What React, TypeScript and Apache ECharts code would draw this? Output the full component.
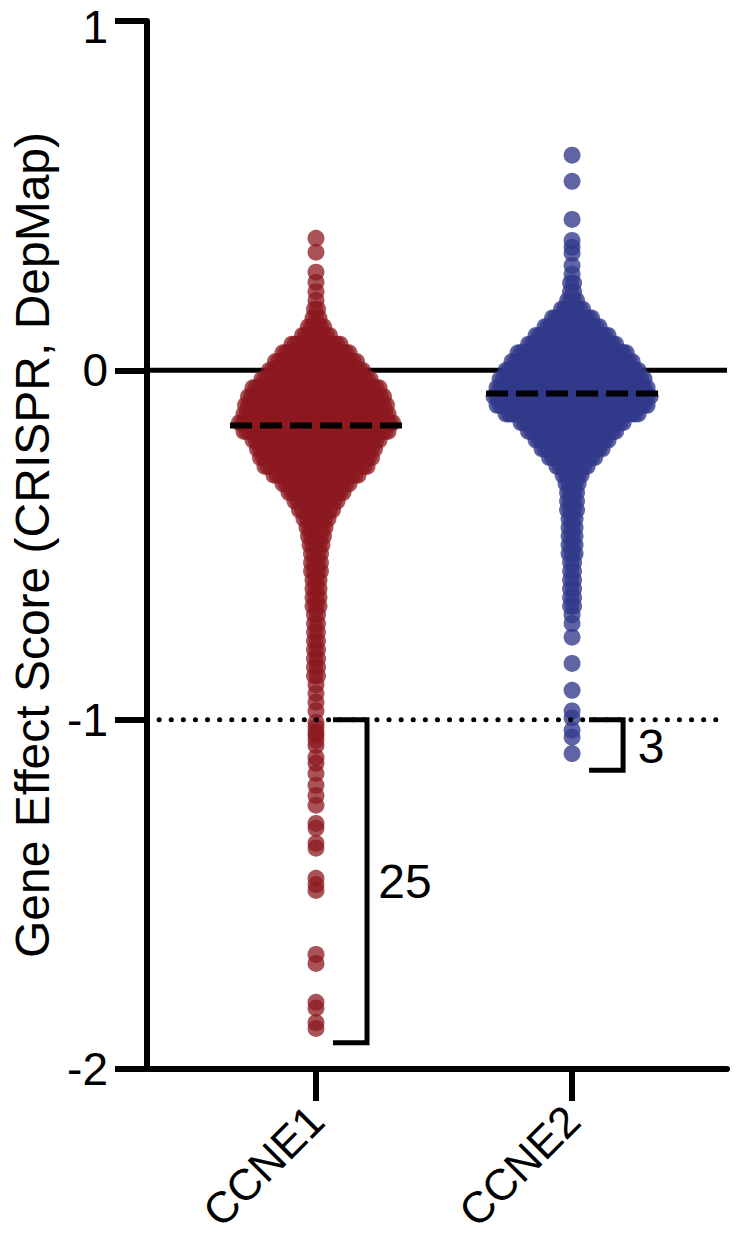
import React, { useEffect, useRef } from "react";
import * as echarts from "echarts";

// ---- Data ----
const CATEGORIES = ["CCNE1", "CCNE2"];
const BIN_STEP = 0.025;

// CCNE1: number of cell lines per 0.025-wide bin, from the top bin down
const CCNE1_BIN_TOP = 0.225;
const CCNE1_COUNTS = [
  1, 1, 2, 3, 6, 10, 17, 23, 28, 32,
  37, 43, 46, 48, 49, 52, 49, 43, 40, 38, 35, 29,
  23, 19, 15, 12, 9, 7, 6, 5,
  4, 4, 4, 3, 3, 3, 3, 2, 2, 2, 2, 2, 2, 2, 2, 1, 1, 1, 1,
];
const CCNE1_HIGH = [0.378, 0.338, 0.281, 0.252];
const CCNE1_LOW = [
  -1.008, -1.022, -1.036, -1.045, -1.059, -1.074, -1.108, -1.125, -1.154,
  -1.188, -1.217, -1.245, -1.297, -1.311, -1.354, -1.368, -1.454, -1.472,
  -1.489, -1.672, -1.698, -1.809, -1.826, -1.867, -1.884,
];
const CCNE1_MEDIAN = -0.158;

// CCNE2
const CCNE2_BIN_TOP = 0.3;
const CCNE2_COUNTS = [
  1, 1, 2, 2, 4, 8, 14, 19, 25, 30, 37, 41, 45,
  49, 51, 53, 51, 45, 35, 30, 25, 21, 16, 11, 7, 5,
  4, 4, 4, 3, 3, 3, 3, 3, 2, 2, 2, 2, 2, 2, 1, 1,
];
const CCNE2_HIGH = [0.616, 0.541, 0.432, 0.372, 0.352, 0.335];
const CCNE2_LOW = [-0.764, -0.839, -0.916, -0.975, -0.995, -1.03, -1.05, -1.097];
const CCNE2_MEDIAN = -0.066;

// counts below the -1 threshold shown by the brackets
const BRACKET_LABELS = ["25", "3"];
const BRACKET_BOTTOMS = [-1.925, -1.145];
const THRESHOLD = -1;

const Y_TICKS = { min: -2, max: 1, interval: 1 };

// ---- layout ----
const W = 749;
const H = 1244;
const GRID = { left: 147, right: 22, top: 21, bottom: 175 };
const X_MIN = 0.34;
const X_MAX = 2.605;
const X_UNIT_PX = (W - GRID.left - GRID.right) / (X_MAX - X_MIN);
const DOT = 17;
const SPACING_PX = 3;
const FONT = "'Liberation Sans', Arial, Helvetica, sans-serif";

const RED = "rgb(140,26,32)";
const BLUE = "rgb(50,58,138)";

function swarm(center: number, binTop: number, counts: number[], high: number[], low: number[]) {
  const pts: number[][] = [];
  high.forEach((v) => pts.push([center, v]));
  counts.forEach((n, i) => {
    const v = +(binTop - i * BIN_STEP).toFixed(4);
    for (let j = 0; j < n; j++) {
      const off = ((j - (n - 1) / 2) * SPACING_PX) / X_UNIT_PX;
      pts.push([center + off, v]);
    }
  });
  low.forEach((v) => pts.push([center, v]));
  return pts;
}

export default function App() {
  const ref = useRef<HTMLDivElement>(null);
  useEffect(() => {
    const chart = echarts.init(ref.current!, null, { renderer: "svg" });
    const p1 = swarm(1, CCNE1_BIN_TOP, CCNE1_COUNTS, CCNE1_HIGH, CCNE1_LOW);
    const p2 = swarm(2, CCNE2_BIN_TOP, CCNE2_COUNTS, CCNE2_HIGH, CCNE2_LOW);
    const halfMed = 86 / X_UNIT_PX;
    const bx1 = 17 / X_UNIT_PX;
    const bx2 = 51 / X_UNIT_PX;
    const bracket = (c: number, bottom: number) => [
      [c + bx1, THRESHOLD],
      [c + bx2, THRESHOLD],
      [c + bx2, bottom],
      [c + bx1, bottom],
    ];
    const lineBase = {
      type: "line" as const,
      symbol: "none",
      showSymbol: false,
      silent: true,
      animation: false,
    };
    chart.setOption({
      animation: false,
      backgroundColor: "#fff",
      textStyle: { fontFamily: FONT },
      grid: { ...GRID, containLabel: false, outerBoundsMode: "none" },
      xAxis: {
        type: "value",
        min: X_MIN,
        max: X_MAX,
        axisLine: { show: true, onZero: false, lineStyle: { color: "#000", width: 6 } },
        axisTick: { show: true, customValues: [1, 2], length: 32, lineStyle: { color: "#000", width: 6 } },
        axisLabel: {
          customValues: [1, 2],
          formatter: (v: number) => CATEGORIES[Math.round(v) - 1],
          rotate: 45,
          margin: 44,
          fontSize: 44,
          lineHeight: 44,
          color: "#000",
          fontFamily: FONT,
        },
        splitLine: { show: false },
      },
      yAxis: {
        type: "value",
        min: Y_TICKS.min,
        max: Y_TICKS.max,
        interval: Y_TICKS.interval,
        axisLine: { show: true, onZero: false, lineStyle: { color: "#000", width: 6 } },
        axisTick: { show: true, length: 32, lineStyle: { color: "#000", width: 6 } },
        axisLabel: {
          margin: 39,
          fontSize: 46,
          color: "#000",
          fontFamily: FONT,
          formatter: (v: number) => (v === Y_TICKS.max ? "{top|" + v + "}" : String(v)),
          rich: { top: { fontSize: 46, color: "#000", fontFamily: FONT, padding: [12, 0, 0, 0] } },
        },
        splitLine: { show: false },
        name: "Gene Effect Score (CRISPR, DepMap)",
        nameLocation: "middle",
        nameGap: 88,
        nameTextStyle: { fontSize: 48, color: "#000", fontFamily: FONT },
      },
      series: [
        {
          ...lineBase,
          data: [[X_MIN, 0], [X_MAX, 0]],
          lineStyle: { color: "#000", width: 5 },
          z: 1,
        },
        {
          type: "scatter",
          data: p1,
          symbolSize: DOT,
          itemStyle: { color: RED, opacity: 0.75 },
          silent: true,
          z: 2,
        },
        {
          type: "scatter",
          data: p2,
          symbolSize: DOT,
          itemStyle: { color: BLUE, opacity: 0.78 },
          silent: true,
          z: 2,
        },
        {
          ...lineBase,
          data: [[X_MIN, THRESHOLD], [X_MAX, THRESHOLD]],
          lineStyle: { color: "#000", width: 5, type: [0.1, 12], cap: "round" },
          z: 3,
        },
        {
          ...lineBase,
          data: [[1 - halfMed, CCNE1_MEDIAN], [1 + halfMed, CCNE1_MEDIAN]],
          lineStyle: { color: "#000", width: 6, type: [22, 8] },
          z: 4,
        },
        {
          ...lineBase,
          data: [[2 - halfMed, CCNE2_MEDIAN], [2 + halfMed, CCNE2_MEDIAN]],
          lineStyle: { color: "#000", width: 6, type: [22, 8] },
          z: 4,
        },
        {
          ...lineBase,
          data: bracket(1, BRACKET_BOTTOMS[0]),
          lineStyle: { color: "#000", width: 5, join: "miter", cap: "butt" },
          z: 4,
        },
        {
          ...lineBase,
          data: bracket(2, BRACKET_BOTTOMS[1]),
          lineStyle: { color: "#000", width: 5, join: "miter", cap: "butt" },
          z: 4,
        },
        {
          type: "scatter",
          symbolSize: 1,
          silent: true,
          z: 5,
          itemStyle: { color: "rgba(0,0,0,0)" },
          data: [
            [1 + 89 / X_UNIT_PX, (BRACKET_BOTTOMS[0] + THRESHOLD) / 2, BRACKET_LABELS[0]],
            [2 + 79 / X_UNIT_PX, (BRACKET_BOTTOMS[1] + THRESHOLD) / 2 - 0.005, BRACKET_LABELS[1]],
          ],
          label: {
            show: true,
            position: "inside",
            formatter: (p: any) => p.data[2],
            fontSize: 48,
            color: "#000",
            opacity: 1,
            textBorderWidth: 0,
            textBorderColor: "transparent",
            fontFamily: FONT,
          },
        },
      ],
    });
    return () => chart.dispose();
  }, []);
  return (
    <div
      ref={ref}
      style={{ position: "absolute", left: 0, top: 0, width: W, height: H }}
    />
  );
}
